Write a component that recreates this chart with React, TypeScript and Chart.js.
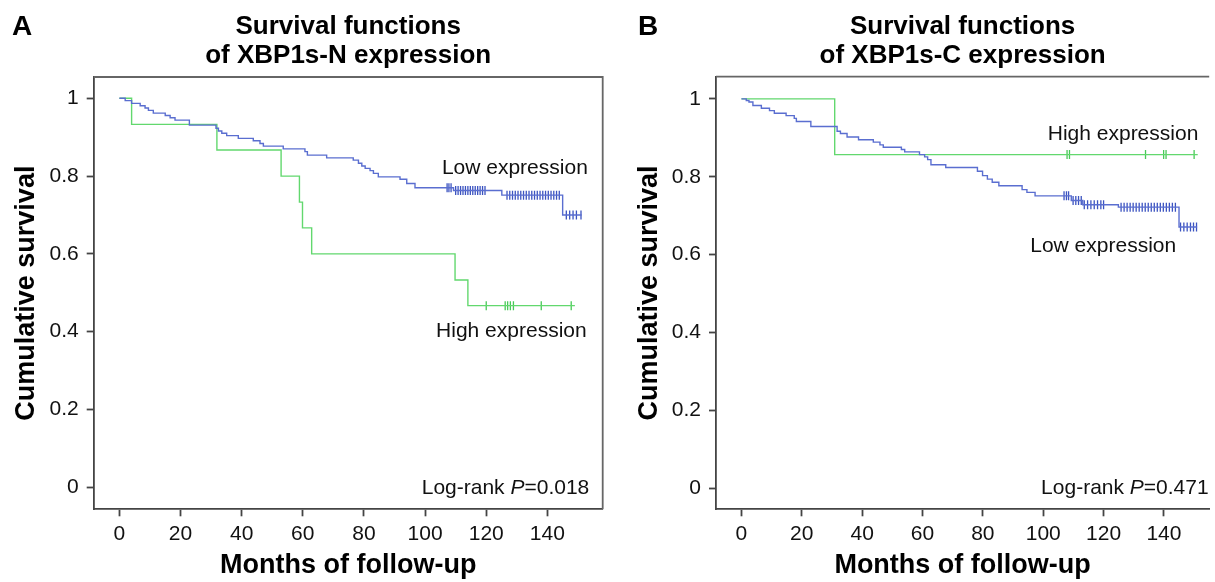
import React, { useEffect, useRef } from "react";
import { Chart, registerables } from "chart.js";

Chart.register(...registerables);

const FONT = '"Liberation Sans", Arial, Helvetica, sans-serif';
const BLUE = "#5a6ed0";
const BLUE_MARK = "#3b53c0";
const GREEN = "#62d86e";
const GREEN_MARK = "#48c957";
const AXIS = "#444";
const FRAME = "#666";

const X_TICKS = [0, 20, 40, 60, 80, 100, 120, 140];
const Y_TICKS = [0, 0.2, 0.4, 0.6, 0.8, 1];
const Y_TICK_LABELS = ["0", "0.2", "0.4", "0.6", "0.8", "1"];

// ---------- Panel A : XBP1s-N ----------
const N_LOW_TIMES = [0, 1.9, 4.0, 6.8, 8.4, 9.5, 11.1, 15.0, 16.6, 18.2, 22.9, 31.6, 32.4, 33.5, 35.1, 38.9, 43.8, 46.0, 47.1, 53.6, 60.7, 61.5, 67.8, 76.5, 78.2, 79.3, 80.4, 82.0, 83.1, 84.7, 91.8, 94.0, 96.7, 109.3, 125.1, 145.0];
const N_LOW_SURV = [1, 0.994, 0.987, 0.981, 0.975, 0.969, 0.962, 0.956, 0.95, 0.944, 0.931, 0.923, 0.916, 0.91, 0.904, 0.897, 0.891, 0.884, 0.877, 0.87, 0.863, 0.854, 0.847, 0.841, 0.833, 0.826, 0.82, 0.814, 0.807, 0.798, 0.792, 0.781, 0.77, 0.763, 0.751, 0.7];
const N_LOW_END = 151.2;
const N_LOW_CENSOR = [107.2, 107.8, 108.5, 110.0, 110.8, 111.6, 112.4, 113.2, 114.0, 114.8, 115.6, 116.4, 117.2, 118.0, 118.8, 119.6, 126.8, 127.7, 128.6, 129.5, 130.4, 131.3, 132.2, 133.1, 134.0, 134.9, 135.8, 136.7, 137.6, 138.5, 139.4, 140.3, 141.2, 142.1, 143.0, 143.9, 146.2, 147.3, 148.4, 149.5, 151.0];

const N_HIGH_TIMES = [0, 4.0, 31.9, 52.9, 58.9, 59.9, 62.9, 109.8, 114.0];
const N_HIGH_SURV = [1, 0.933, 0.867, 0.8, 0.733, 0.667, 0.6, 0.533, 0.467];
const N_HIGH_END = 149.0;
const N_HIGH_CENSOR = [120.0, 126.2, 127.0, 127.9, 128.9, 138.0, 147.8];

// ---------- Panel B : XBP1s-C ----------
const C_LOW_TIMES = [0, 1.6, 2.5, 3.8, 6.6, 9.3, 10.9, 14.8, 17.5, 18.2, 23.0, 31.7, 32.8, 35.0, 38.8, 43.7, 45.9, 47.0, 53.0, 54.1, 59.0, 60.7, 61.7, 62.8, 67.7, 78.2, 79.9, 81.5, 83.1, 85.3, 93.0, 94.6, 97.3, 109.3, 113.1, 124.9, 145.0];
const C_LOW_SURV = [1, 0.996, 0.992, 0.983, 0.976, 0.97, 0.963, 0.957, 0.95, 0.942, 0.929, 0.917, 0.911, 0.902, 0.895, 0.889, 0.882, 0.876, 0.87, 0.864, 0.857, 0.851, 0.844, 0.831, 0.824, 0.814, 0.803, 0.794, 0.786, 0.777, 0.767, 0.76, 0.751, 0.739, 0.728, 0.722, 0.671];
const C_LOW_END = 151.0;
const C_LOW_CENSOR = [106.9, 107.7, 108.4, 109.9, 110.8, 111.7, 112.6, 113.6, 114.7, 115.8, 116.9, 118.0, 119.1, 120.0, 125.8, 126.8, 127.8, 128.8, 129.8, 130.8, 131.8, 132.8, 133.8, 134.8, 135.8, 136.8, 137.8, 138.8, 139.8, 140.8, 141.8, 142.8, 143.8, 145.5, 146.6, 147.7, 148.8, 149.8, 150.8];

const C_HIGH_TIMES = [0, 30.9];
const C_HIGH_SURV = [1, 0.857];
const C_HIGH_END = 151.2;
const C_HIGH_CENSOR = [107.9, 108.7, 133.9, 139.9, 140.7, 150.0];

type Curve = { times: number[]; surv: number[]; end: number; censor: number[] };
type Label = { text: string; x: number; y: number };

interface PanelSpec {
  letter: string;
  titleLines: string[];
  low: Curve;
  high: Curve;
  pText: string;
  pPos: { x: number; y: number };
  labels: Label[];
  xMin: number;
  xMax: number;
  yMin: number;
  yMax: number;
  canvasLeft: number;
  canvasWidth: number;
  yAxisWidth: number;
  yTitlePad: number;
  titlePadTop: number;
  padRight: number;
  letterX: number;
  rightBorder: boolean;
}

function survAt(times: number[], surv: number[], t: number) {
  let s = surv[0];
  for (let i = 0; i < times.length; i++) if (times[i] <= t) s = surv[i];
  return s;
}

function curvePoints(c: Curve) {
  const pts = c.times.map((t, i) => ({ x: t, y: c.surv[i] }));
  pts.push({ x: c.end, y: c.surv[c.surv.length - 1] });
  return pts;
}

function censorPoints(c: Curve) {
  return c.censor.map((t) => ({ x: t, y: survAt(c.times, c.surv, t) }));
}

const PANELS: PanelSpec[] = [
  {
    letter: "A",
    titleLines: ["Survival functions", "of XBP1s-N expression"],
    low: { times: N_LOW_TIMES, surv: N_LOW_SURV, end: N_LOW_END, censor: N_LOW_CENSOR },
    high: { times: N_HIGH_TIMES, surv: N_HIGH_SURV, end: N_HIGH_END, censor: N_HIGH_CENSOR },
    pText: "=0.018",
    pPos: { x: 98.9, y: -0.017 },
    labels: [
      { text: "Low expression", x: 105.5, y: 0.805 },
      { text: "High expression", x: 103.6, y: 0.387 },
    ],
    xMin: -8.4,
    xMax: 158.1,
    yMin: -0.0566,
    yMax: 1.0548,
    canvasLeft: 0,
    canvasWidth: 615,
    yAxisWidth: 93.7,
    yTitlePad: 10.8,
    titlePadTop: 12,
    padRight: 12.3,
    letterX: 12,
    rightBorder: true,
  },
  {
    letter: "B",
    titleLines: ["Survival functions", "of XBP1s-C expression"],
    low: { times: C_LOW_TIMES, surv: C_LOW_SURV, end: C_LOW_END, censor: C_LOW_CENSOR },
    high: { times: C_HIGH_TIMES, surv: C_HIGH_SURV, end: C_HIGH_END, censor: C_HIGH_CENSOR },
    pText: "=0.471",
    pPos: { x: 99.3, y: -0.015 },
    labels: [
      { text: "High expression", x: 101.5, y: 0.895 },
      { text: "Low expression", x: 95.7, y: 0.608 },
    ],
    xMin: -8.43,
    xMax: 155.0,
    yMin: -0.054,
    yMax: 1.057,
    canvasLeft: 615,
    canvasWidth: 600,
    yAxisWidth: 101,
    yTitlePad: 18.8,
    titlePadTop: 11.7,
    padRight: 1,
    letterX: 23,
    rightBorder: false,
  },
];

function makeConfig(p: PanelSpec): any {
  const overlay = {
    id: "overlay" + p.letter,
    afterDraw(chart: any) {
      const { ctx, chartArea: a, scales } = chart;
      const xs = scales.x;
      const ys = scales.y;
      ctx.save();
      ctx.strokeStyle = FRAME;
      ctx.lineWidth = 1.8;
      ctx.beginPath();
      ctx.moveTo(a.left, a.top);
      ctx.lineTo(a.right, a.top);
      if (p.rightBorder) ctx.lineTo(a.right, a.bottom);
      ctx.stroke();

      ctx.fillStyle = "#111";
      ctx.textAlign = "left";
      ctx.textBaseline = "alphabetic";
      ctx.font = `21px ${FONT}`;
      p.labels.forEach((l) => {
        ctx.fillText(l.text, xs.getPixelForValue(l.x), ys.getPixelForValue(l.y));
      });

      let px = xs.getPixelForValue(p.pPos.x);
      const py = ys.getPixelForValue(p.pPos.y);
      const part1 = "Log-rank ";
      ctx.fillText(part1, px, py);
      px += ctx.measureText(part1).width;
      ctx.font = `italic 21px ${FONT}`;
      ctx.fillText("P", px, py);
      px += ctx.measureText("P").width;
      ctx.font = `21px ${FONT}`;
      ctx.fillText(p.pText, px, py);

      ctx.fillStyle = "#000";
      ctx.font = `bold 28px ${FONT}`;
      ctx.fillText(p.letter, p.letterX, 35);
      ctx.restore();
    },
  };

  return {
    type: "line",
    data: {
      datasets: [
        {
          label: "Low expression",
          data: curvePoints(p.low),
          borderColor: BLUE,
          borderWidth: 1.4,
          stepped: true,
          pointRadius: 0,
          fill: false,
        },
        {
          label: "Low censored",
          data: censorPoints(p.low),
          showLine: false,
          pointStyle: "line",
          rotation: 90,
          pointRadius: 4.5,
          borderColor: BLUE_MARK,
          pointBorderColor: BLUE_MARK,
          pointBorderWidth: 1.3,
        },
        {
          label: "High expression",
          data: curvePoints(p.high),
          borderColor: GREEN,
          borderWidth: 1.4,
          stepped: true,
          pointRadius: 0,
          fill: false,
        },
        {
          label: "High censored",
          data: censorPoints(p.high),
          showLine: false,
          pointStyle: "line",
          rotation: 90,
          pointRadius: 4.5,
          borderColor: GREEN_MARK,
          pointBorderColor: GREEN_MARK,
          pointBorderWidth: 1.3,
        },
      ],
    },
    options: {
      responsive: false,
      animation: false,
      devicePixelRatio: 1,
      events: [],
      layout: { padding: { left: 0, right: p.padRight, top: 0, bottom: 0 } },
      plugins: {
        legend: { display: false },
        tooltip: { enabled: false },
        title: {
          display: true,
          text: p.titleLines,
          fullSize: false,
          color: "#000",
          font: { family: FONT, size: 26, weight: "bold", lineHeight: 1.13 },
          padding: { top: p.titlePadTop, bottom: 6.24 },
        },
      },
      scales: {
        x: {
          type: "linear",
          position: "bottom",
          min: p.xMin,
          max: p.xMax,
          afterFit: (s: any) => {
            s.height = 72.7;
          },
          afterBuildTicks: (s: any) => {
            s.ticks = X_TICKS.map((v) => ({ value: v }));
          },
          ticks: {
            font: { family: FONT, size: 21 },
            color: "#111",
            padding: 5,
            autoSkip: false,
            maxRotation: 0,
            callback: (v: any) => String(v),
          },
          grid: {
            display: true,
            drawOnChartArea: false,
            drawTicks: true,
            tickLength: 7,
            tickWidth: 1.8,
            tickColor: AXIS,
          },
          border: { display: true, color: AXIS, width: 1.8 },
          title: {
            display: true,
            text: "Months of follow-up",
            color: "#000",
            font: { family: FONT, size: 27, weight: "bold" },
            padding: { top: 0, bottom: 0 },
          },
        },
        y: {
          type: "linear",
          position: "left",
          min: p.yMin,
          max: p.yMax,
          afterFit: (s: any) => {
            s.width = p.yAxisWidth;
          },
          afterBuildTicks: (s: any) => {
            s.ticks = Y_TICKS.map((v) => ({ value: v }));
          },
          ticks: {
            font: { family: FONT, size: 21 },
            color: "#111",
            padding: 8,
            autoSkip: false,
            callback: (v: any) => Y_TICK_LABELS[Y_TICKS.indexOf(v)] ?? String(v),
          },
          grid: {
            display: true,
            drawOnChartArea: false,
            drawTicks: true,
            tickLength: 7,
            tickWidth: 1.8,
            tickColor: AXIS,
          },
          border: { display: true, color: AXIS, width: 1.8 },
          title: {
            display: true,
            text: "Cumulative survival",
            color: "#000",
            font: { family: FONT, size: 27, weight: "bold" },
            padding: { top: p.yTitlePad, bottom: 0 },
          },
        },
      },
    },
    plugins: [overlay],
  };
}

function Panel({ spec }: { spec: PanelSpec }) {
  const ref = useRef<HTMLCanvasElement | null>(null);
  useEffect(() => {
    if (!ref.current) return;
    const chart = new Chart(ref.current, makeConfig(spec));
    return () => chart.destroy();
  }, [spec]);
  return (
    <canvas
      ref={ref}
      width={spec.canvasWidth}
      height={582}
      style={{
        position: "absolute",
        left: spec.canvasLeft,
        top: 0,
        width: spec.canvasWidth,
        height: 582,
      }}
    />
  );
}

export default function App() {
  return (
    <div
      style={{
        position: "absolute",
        left: 0,
        top: 0,
        width: 1215,
        height: 582,
        background: "#fff",
        overflow: "hidden",
      }}
    >
      {PANELS.map((p) => (
        <Panel key={p.letter} spec={p} />
      ))}
    </div>
  );
}
